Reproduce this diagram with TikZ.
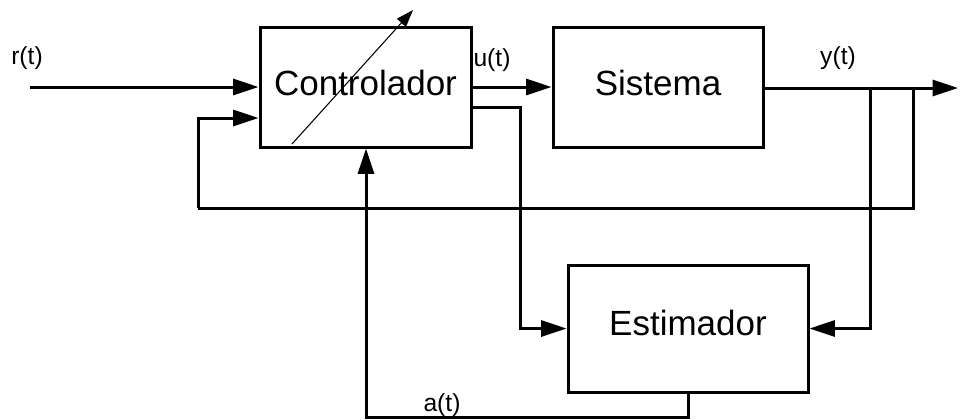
\documentclass[tikz,border=0pt]{standalone}
\usepackage{fontspec}
\setmainfont{Liberation Sans}
\usetikzlibrary{arrows.meta}
\begin{document}
\begin{tikzpicture}[x=0.75pt,y=-0.75pt,
  blk/.style={draw,line width=2.25pt,rectangle,inner sep=0pt},
  bigtext/.style={font=\fontsize{26.25}{30}\selectfont,inner sep=0pt,anchor=base},
  sig/.style={font=\fontsize{18.5}{22}\selectfont,inner sep=0pt},
  conn/.style={line width=2.25pt,-{Triangle[length=19pt,width=12pt]}},
  plain/.style={line width=2.25pt},
  adapt/.style={line width=0.8pt,-{Triangle[length=13pt,width=9pt]}}]
\useasboundingbox (0,0) rectangle (960,419);
% blocks
\node[blk,minimum width=158.25pt,minimum height=90pt] (ctrl) at (365.5,87) {};
\node[blk,minimum width=157.5pt,minimum height=90pt] (sys) at (658,87) {};
\node[blk,minimum width=180pt,minimum height=95.25pt] (est) at (688,328.5) {};
\node[bigtext] (tctrl) at (365.5,95) {Controlador};
\node[bigtext] (tsys) at (658,95) {Sistema};
\node[bigtext] (test) at (688,335) {Estimador};
% labels
\node[sig] (lr) at (27,58) {r(t)};
\node[sig] (lu) at (492,60) {u(t)};
\node[sig] (ly) at (838,58) {y(t)};
\node[sig] (la) at (442,405) {a(t)};
% coordinates
\coordinate (rin) at (30,87);
\coordinate (out) at (958,88);
\coordinate (b1) at (870,88);
\coordinate (b2) at (913,88);
\coordinate (fbl) at (198,208);
\coordinate (ub) at (520,107);
\coordinate (ab) at (366,417);
% connectors
\draw[conn] (rin) -- (rin -| ctrl.west);
\draw[conn] (ctrl.east |- 0,87) -- (sys.west |- 0,87);
\draw[conn] (sys.east |- out) -- (out);
\draw[plain] (b2) -- (b2 |- fbl) -- (fbl);
\draw[conn] (fbl) -- (fbl |- 0,118) -- (ctrl.west |- 0,118);
\draw[conn] (ctrl.east |- ub) -- (ub) -- (ub |- est.west) -- (est.west);
\draw[conn] (b1) -- (b1 |- est.east) -- (est.east);
\draw[conn] (est.south) -- (est.south |- ab) -- (ab) -- (ab |- ctrl.south);
% adaptation arrow
\coordinate (d1) at (292,144);
\coordinate (d2) at (413,10);
\draw[adapt] (d1) -- (d2);
\end{tikzpicture}
\end{document}
